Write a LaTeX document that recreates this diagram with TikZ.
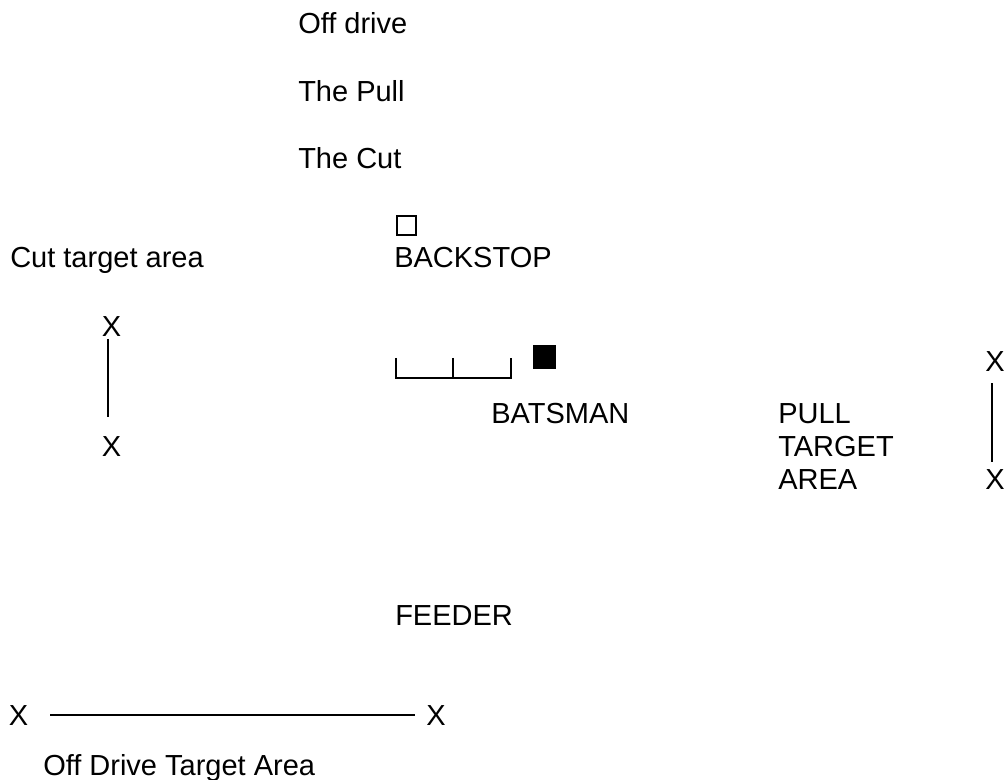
\documentclass[tikz,border=0pt]{standalone}
\usepackage{fontspec}
\setmainfont{Liberation Sans}
\usetikzlibrary{positioning}

\begin{document}
\begin{tikzpicture}[x=0.75pt, y=-0.75pt,
    lbl/.style={anchor=base west, inner sep=0pt, font=\fontsize{21.75}{26}\selectfont},
    xmark/.style={anchor=base, inner sep=0pt, font=\fontsize{21.75}{26}\selectfont},
    sq/.style={rectangle, draw=black, line width=1.2pt, inner sep=0pt, minimum size=14.5pt},
    ln/.style={draw=black, line width=1.2pt}
    ]
    \useasboundingbox (0,0) rectangle (1006,780);
    % shot names
    \node[lbl] (offdrive) at (298,34) {Off drive};
    \node[lbl] (pull) at (298,102) {The Pull};
    \node[lbl] (cut) at (298,169) {The Cut};

    % backstop
    \node[sq] (bsq) at (406.5,225.5) {};
    \node[lbl] (backstop) at (394,268) {BACKSTOP};

    % cut target area
    \node[lbl] (cutlbl) at (10,268) {Cut target area};
    \node[xmark] (cutxa) at (111.5,337) {X};
    \node[xmark] (cutxb) at (111.5,456) {X};
    \coordinate (cuta) at (108,339);
    \coordinate (cutb) at (108,417);
    \draw[ln] (cuta) -- (cutb);

    % stumps and batsman
    \coordinate (st1) at (396,358);
    \coordinate (st2) at (453,358);
    \coordinate (st3) at (511,358);
    \draw[ln] (st1) -- ++(0,20) -| (st3);
    \draw[ln] (st2) -- ++(0,20);
    \node[sq, fill=black, minimum size=16.5pt] (bat) at (544.5,357) {};
    \node[lbl] (batsman) at (491,423) {BATSMAN};

    % pull target area
    \node[lbl] (pulla) at (778,423) {PULL};
    \node[lbl] (pullb) at (778,456) {TARGET};
    \node[lbl] (pullc) at (778,489) {AREA};
    \node[xmark] (pullxa) at (995,372) {X};
    \node[xmark] (pullxb) at (995,489) {X};
    \coordinate (pxa) at (992,383);
    \coordinate (pxb) at (992,462);
    \draw[ln] (pxa) -- (pxb);

    % feeder
    \node[lbl] (feeder) at (395,625) {FEEDER};

    % off drive target area
    \node[xmark] (offxa) at (18.5,725) {X};
    \node[xmark] (offxb) at (436,725) {X};
    \coordinate (oxa) at (50,715);
    \coordinate (oxb) at (415,715);
    \draw[ln] (oxa) -- (oxb);
    \node[lbl] (offlbl) at (43,775) {Off Drive Target Area};
\end{tikzpicture}
\end{document}
